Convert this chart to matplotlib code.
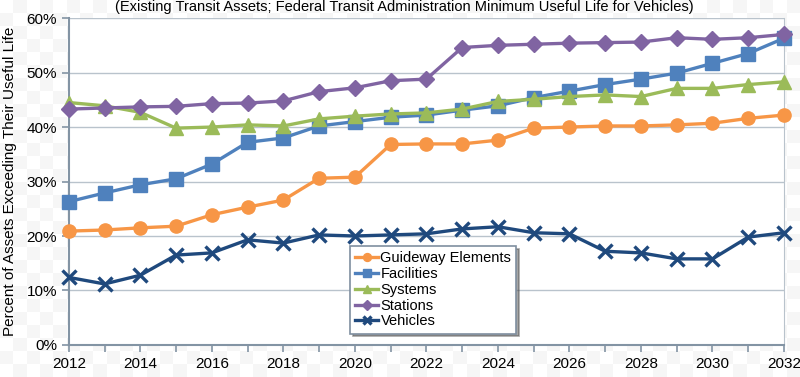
import numpy as np
import matplotlib.pyplot as plt

plt.rcParams['font.family'] = ['Liberation Sans', 'DejaVu Sans']

years = list(range(2012, 2033))

guideway = [20.9, 21.1, 21.5, 21.8, 23.9, 25.3, 26.6, 30.6, 30.8, 36.8, 36.9,
            36.9, 37.6, 39.8, 40.0, 40.2, 40.2, 40.4, 40.7, 41.6, 42.2]
facilities = [26.3, 27.9, 29.4, 30.5, 33.2, 37.2, 38.0, 40.2, 41.0, 41.8, 42.2,
              43.1, 43.9, 45.4, 46.6, 47.8, 48.8, 49.9, 51.7, 53.5, 56.3]
systems = [44.5, 43.9, 42.7, 39.8, 40.0, 40.4, 40.2, 41.5, 42.0, 42.4, 42.6,
           43.3, 44.7, 45.1, 45.6, 45.9, 45.6, 47.1, 47.1, 47.8, 48.3]
stations = [43.3, 43.5, 43.7, 43.8, 44.3, 44.4, 44.8, 46.5, 47.2, 48.5, 48.8,
            54.6, 55.0, 55.2, 55.4, 55.5, 55.6, 56.4, 56.1, 56.4, 57.0]
vehicles = [12.4, 11.2, 12.8, 16.5, 16.9, 19.3, 18.7, 20.2, 20.0, 20.2, 20.4,
            21.3, 21.7, 20.6, 20.4, 17.2, 16.9, 15.8, 15.8, 19.8, 20.6]

series = [
    ('Guideway Elements', guideway, '#F79646', 'o'),
    ('Facilities', facilities, '#4F81BD', 's'),
    ('Systems', systems, '#9BBB59', '^'),
    ('Stations', stations, '#8064A2', 'D'),
    ('Vehicles', vehicles, '#1F497D', 'x'),
]

fig = plt.figure(figsize=(8, 3.77), dpi=100)

# checkered background (transparent-image look)
bg = fig.add_axes([0, 0, 1, 1], zorder=-10)
cells = np.indices((29, 60)).sum(axis=0) % 2
bg.imshow(cells, cmap='Greys', vmin=0, vmax=14, aspect='auto', interpolation='nearest')
bg.axis('off')

ax = fig.add_axes([0.086, 0.085, 0.894, 0.867])
ax.set_facecolor('white')

for name, vals, col, mk in series:
    if mk == 'x':
        ax.plot(years, vals, color=col, lw=2.4, marker=mk, ms=10, mew=2.4,
                label=name, clip_on=False, zorder=3)
    else:
        ms = 8 if mk == 'D' else 9.5
        ax.plot(years, vals, color=col, lw=2.4, marker=mk, ms=ms,
                label=name, clip_on=False, zorder=3)

ax.set_xlim(2012, 2032)
ax.set_ylim(0, 60)
ax.set_xticks(range(2012, 2033))
ax.set_xticklabels([str(y) if y % 2 == 0 else '' for y in years])
ax.set_yticks(range(0, 61, 10))
ax.set_yticklabels([f'{v}%' for v in range(0, 61, 10)])
ax.grid(axis='y', color='#b9c3cc', lw=1)
ax.set_axisbelow(True)

for s in ['left', 'bottom']:
    ax.spines[s].set_color('#8394a4')
    ax.spines[s].set_linewidth(1.5)
ax.spines['top'].set_visible(False)
ax.spines['right'].set_color('#b9c3cc')
ax.tick_params(axis='both', colors='#8394a4', labelcolor='black',
               labelsize=11, length=5, width=1.2)

ax.set_ylabel('Percent of Assets Exceeding Their Useful Life', fontsize=11)
ax.yaxis.set_label_coords(-0.072, 0.5)

fig.text(0.506, 0.982, '(Existing Transit Assets; Federal Transit Administration '
         'Minimum Useful Life for Vehicles)', ha='center', va='center', fontsize=10.5)

leg = ax.legend(loc='lower left', bbox_to_anchor=(0.393, 0.035), fontsize=10.5,
                frameon=True, fancybox=False, shadow=True, borderpad=0.35,
                labelspacing=0.12, handlelength=1.6, handletextpad=0.15,
                markerscale=0.6, borderaxespad=0)
leg.get_frame().set_edgecolor('#7f8fa0')
leg.get_frame().set_linewidth(1.2)

fig.savefig('out.png', dpi=100)
